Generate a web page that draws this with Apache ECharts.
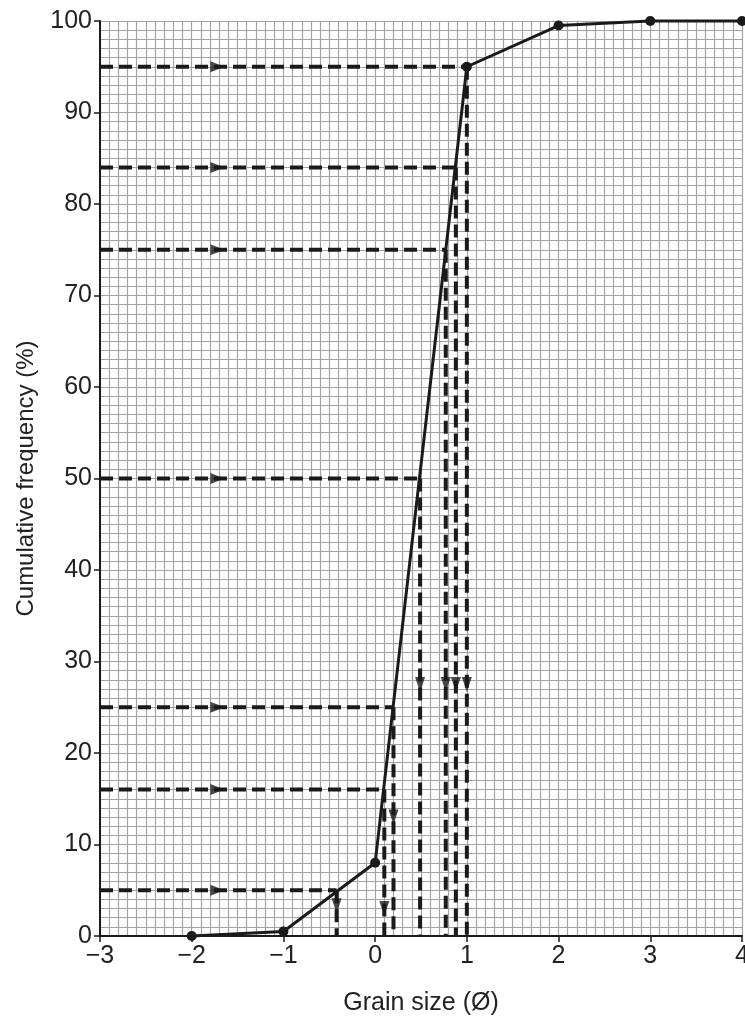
<!DOCTYPE html>
<html>
<head>
<meta charset="utf-8">
<script src="https://cdn.jsdelivr.net/npm/echarts@6/dist/echarts.min.js"></script>
<style>
html,body{margin:0;padding:0;background:#fff;overflow:hidden;}
#chart{width:745px;height:1018px;}
</style>
</head>
<body>
<div id="chart"></div>
<script>
// Cumulative frequency curve (grain size in phi units)
const grainSize = [-2, -1, 0, 1, 2, 3, 4];
const cumFreq = [0, 0.5, 8, 95, 99.5, 100, 100];

const levels = [5, 16, 25, 50, 75, 84, 95];
const levelGrain = [-0.42, 0.1, 0.2, 0.49, 0.77, 0.88, 1.0];

// Arrow-head positions on the guide lines
const hArrowX = -1.72;
const vArrowY = [3.3, 3.0, 13, 27.5, 27.5, 27.5, 27.5];

const xTicks = [-3, -2, -1, 0, 1, 2, 3, 4];
const yTicks = [0, 10, 20, 30, 40, 50, 60, 70, 80, 90, 100];

const ink = '#1a1a1a';
const gridColor = '#a2a2a2';
const font = 'Liberation Sans, Arial, Helvetica, sans-serif';
const dash = { color: ink, width: 4, type: [13, 6] };

const series = [];
levels.forEach((L, i) => {
  series.push({
    type: 'line', silent: true, symbol: 'none', animation: false,
    lineStyle: dash, data: [[xTicks[0], L], [levelGrain[i], L]]
  });
  series.push({
    type: 'line', silent: true, symbol: 'none', animation: false,
    lineStyle: dash, data: [[levelGrain[i], L], [levelGrain[i], 0]]
  });
});
series.push({
  type: 'scatter', silent: true, animation: false,
  symbol: 'path://M0,0 L14,5.5 L0,11 Z', symbolSize: [14, 11],
  itemStyle: { color: ink },
  data: levels.map(L => [hArrowX, L])
});
series.push({
  type: 'scatter', silent: true, animation: false,
  symbol: 'path://M0,0 L10,0 L5,15 Z', symbolSize: [10, 15],
  itemStyle: { color: ink },
  data: levelGrain.map((g, i) => [g, vArrowY[i]])
});
series.push({
  type: 'line', silent: true, animation: false, clip: false,
  symbol: 'circle', symbolSize: 10,
  lineStyle: { color: ink, width: 3 },
  itemStyle: { color: ink },
  data: grainSize.map((g, i) => [g, cumFreq[i]])
});

const chart = echarts.init(document.getElementById('chart'), null, { renderer: 'canvas' });
chart.setOption({
  backgroundColor: '#fff',
  animation: false,
  grid: { left: 100, right: 3, top: 21, bottom: 82, containLabel: false, outerBoundsMode: 'none' },
  xAxis: {
    type: 'value', min: -3, max: 4, interval: 1,
    name: 'Grain size (Ø)', nameLocation: 'middle', nameGap: 55,
    nameTextStyle: { fontFamily: font, fontSize: 25, color: '#222' },
    axisLine: { show: true, onZero: false, lineStyle: { color: ink, width: 2 } },
    axisTick: { show: true, length: 6, lineStyle: { color: ink, width: 1.5 } },
    axisLabel: {
      margin: 8, fontFamily: font, fontSize: 25, color: '#222',
      formatter: v => String(v).replace('-', '\u2212')
    },
    splitLine: { show: true, lineStyle: { color: gridColor, width: 1.2 } },
    minorTick: { show: false, splitNumber: 10 },
    minorSplitLine: { show: true, lineStyle: { color: gridColor, width: 1.2 } }
  },
  yAxis: {
    type: 'value', min: 0, max: 100, interval: 10,
    name: 'Cumulative frequency (%)', nameLocation: 'middle', nameGap: 62, nameRotate: 90,
    nameTextStyle: { fontFamily: font, fontSize: 24, color: '#222' },
    axisLine: { show: true, onZero: false, lineStyle: { color: ink, width: 2 } },
    axisTick: { show: true, length: 6, lineStyle: { color: ink, width: 1.5 } },
    axisLabel: { margin: 8, fontFamily: font, fontSize: 25, color: '#222' },
    splitLine: { show: true, lineStyle: { color: gridColor, width: 1.2 } },
    minorTick: { show: false, splitNumber: 10 },
    minorSplitLine: { show: true, lineStyle: { color: gridColor, width: 1.2 } }
  },
  series: series
});
</script>
</body>
</html>
